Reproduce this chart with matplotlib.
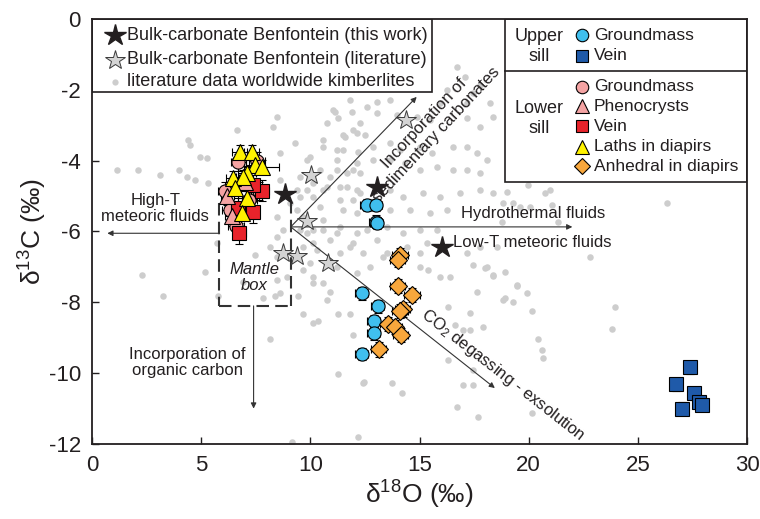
import numpy as np
import matplotlib
matplotlib.use('Agg')
import matplotlib.pyplot as plt
from matplotlib.patches import Rectangle

plt.rcParams['font.family'] = ['Liberation Sans', 'DejaVu Sans']
plt.rcParams['mathtext.fontset'] = 'custom'
plt.rcParams['mathtext.rm'] = 'Liberation Sans'
plt.rcParams['mathtext.it'] = 'Liberation Sans:italic'
plt.rcParams['axes.unicode_minus'] = False

# literature data worldwide kimberlites (d18O, d13C)
lit_x = [1.14, 2.11, 3.11, 3.98, 4.39, 4.49, 5.26, 5.31, 2.29, 5.17, 3.25, 4.35, 4.71, 5.72, 4.94,
         6.64, 8.28, 8.47, 8.60, 9.29, 9.84, 8.60, 9.52, 10.11, 9.52, 9.06, 8.47, 9.38, 10.11, 9.66,
         8.47, 9.52, 10.11, 8.15, 9.66, 10.11, 7.46, 8.47, 6.91, 8.47, 8.60, 9.66, 7.83, 10.11, 9.98,
         10.57, 11.12, 11.90, 11.49, 12.13, 10.76, 11.21, 10.44, 11.21, 11.95, 9.38, 9.84, 10.57, 11.35,
         12.13, 10.44, 11.49, 12.13, 9.84, 10.57, 11.21, 12.13, 10.30, 11.81, 9.98, 11.21, 10.11, 10.57,
         12.13, 8.74, 8.93, 8.15, 9.15, 12.17, 11.26, 12.45, 9.66, 10.11, 10.34, 11.26, 11.81, 10.76,
         10.89, 11.95, 9.43, 8.38, 5.77, 12.72, 13.32, 15.01, 15.38, 15.93, 16.39, 17.44, 18.08, 18.35,
         18.90, 19.45, 19.91, 17.62, 18.81, 19.27, 20.14, 16.29, 17.30, 16.61, 16.98, 17.30, 17.90,
         20.41, 20.60, 20.64, 16.29, 17.44, 16.98, 17.44, 16.71, 17.67, 20.14, 14.19, 13.73, 12.40,
         22.79, 23.94, 23.80, 16.71, 17.07, 16.25, 17.44, 17.76, 18.22, 17.16, 15.93, 13.64, 13.04,
         12.59, 11.81, 11.03, 11.26, 12.27, 13.04, 13.96, 14.88, 15.47, 17.16, 17.76, 18.35, 10.57,
         11.58, 11.95, 12.50, 11.49, 12.17, 12.86, 13.64, 14.10, 15.01, 15.56, 16.52, 17.16, 17.62,
         18.08, 11.21, 12.13, 12.86, 13.64, 14.33, 15.01, 15.79, 16.52, 17.16, 17.76, 10.89, 11.67,
         12.27, 10.76, 11.67, 12.27, 11.35, 11.95, 13.64, 14.23, 15.15, 15.93, 16.84, 17.76, 18.35,
         13.64, 14.55, 15.47, 16.25, 10.57, 11.35, 12.59, 13.50, 14.23, 15.01, 15.79, 10.89, 11.95,
         13.04, 14.42, 15.33, 17.76, 18.54, 11.35, 12.40, 13.50, 15.01, 17.16, 19.00, 19.96, 20.73,
         20.96, 18.81, 19.27, 19.59, 20.05, 21.05, 26.32, 21.33, 18.77, 17.99, 18.35, 19.45, 18.90]
lit_y = [-4.27, -4.27, -4.41, -4.27, -3.42, -3.56, -3.93, -4.63, -7.23, -7.15, -7.83, -4.46, -4.55, -6.33, -3.90,
         -3.14, -3.05, -2.77, -3.79, -3.50, -3.98, -4.55, -4.46, -4.63, -5.03, -5.20, -5.59, -5.40, -5.03, -5.59,
         -6.16, -5.96, -5.96, -6.44, -6.44, -6.33, -6.67, -6.72, -7.43, -7.37, -7.74, -7.09, -7.88, -7.46, -3.90,
         -3.62, -2.63, -2.63, -3.28, -3.22, -2.94, -3.70, -4.27, -4.27, -4.27, -4.83, -4.83, -4.83, -4.75,
         -4.83, -5.31, -5.40, -5.48, -6.05, -5.96, -6.05, -6.05, -6.53, -6.44, -6.89, -7.01, -7.29, -7.46,
         -7.18, -5.96, -7.29, -9.04, -11.95, -11.81, -10.03, -10.25, -8.33, -8.59, -8.53, -8.33, -8.33, -7.94,
         -7.71, -8.93, -7.83, -7.83, -7.83, -7.01, -6.72, -7.01, -7.09, -7.29, -7.29, -6.95, -7.01, -7.23,
         -7.15, -7.51, -7.74, -7.71, -7.94, -7.99, -8.25, -8.14, -8.31, -8.64, -8.79, -8.79, -8.70,
         -9.04, -9.35, -9.58, -9.63, -9.92, -10.34, -10.34, -10.96, -11.24, -11.13, -10.57, -10.28, -10.28,
         -6.72, -8.14, -8.76, -1.36, -1.64, -2.01, -2.09, -1.86, -2.37, -2.37, -2.37, -2.29, -2.34,
         -2.49, -2.29, -2.57, -2.80, -2.94, -2.66, -2.71, -2.77, -2.85, -2.80, -3.05, -2.77, -3.42,
         -3.33, -3.14, -3.28, -3.70, -3.76, -3.62, -3.50, -3.70, -3.62, -3.79, -3.62, -3.62, -3.79,
         -3.98, -3.98, -4.07, -3.98, -3.98, -4.07, -4.27, -4.18, -4.27, -4.27, -4.35, -4.46, -4.35,
         -4.35, -4.75, -4.75, -4.92, -5.11, -5.11, -4.83, -5.03, -4.92, -5.03, -4.92, -4.83, -4.92,
         -5.40, -5.40, -5.48, -5.40, -5.68, -5.88, -5.96, -5.88, -6.05, -5.96, -5.96, -6.24, -6.33,
         -6.24, -6.44, -6.33, -6.44, -6.44, -6.61, -6.61, -6.61, -6.61, -6.61, -4.89, -4.69, -4.92,
         -4.83, -5.20, -5.20, -5.31, -5.31, -5.25, -5.20, -5.73, -5.73, -7.03, -7.26, -7.54, -7.88]

# bulk carbonate Benfontein
bulk_x = [8.85, 13.05, 16.05]
bulk_y = [-4.95, -4.75, -6.45]
bulk_lit_x = [14.4, 10.05, 9.85, 8.75, 9.4, 10.8]
bulk_lit_y = [-2.85, -4.4, -5.7, -6.6, -6.7, -6.9]

# upper sill
up_gm_x = [12.59, 13.0, 13.0, 13.04, 12.36, 13.09, 12.9, 12.9, 12.36]
up_gm_y = [-5.25, -5.25, -5.72, -5.76, -7.74, -8.11, -8.53, -8.87, -9.46]
up_vein_x = [27.37, 26.77, 27.55, 27.0, 27.78, 27.96]
up_vein_y = [-9.83, -10.31, -10.57, -11.0, -10.82, -10.9]

# lower sill
lo_gm_x = [6.1, 6.3, 6.6, 7.55, 6.7, 7.65, 7.2]
lo_gm_y = [-4.85, -5.4, -5.85, -4.0, -4.05, -4.85, -5.1]
lo_phen_x = [6.4, 7.0, 6.2]
lo_phen_y = [-5.55, -4.6, -5.0]
lo_vein_x = [7.8, 7.35, 6.7, 7.35, 6.75]
lo_vein_y = [-4.85, -4.7, -5.35, -5.45, -6.05]
laths_x = [6.77, 7.32, 7.46, 7.78, 6.45, 7.09, 6.91, 6.54, 7.09, 6.86]
laths_y = [-3.76, -3.76, -4.12, -4.18, -4.49, -4.35, -4.46, -4.77, -5.06, -5.48]
laths_xerr = [0.35, 0.35, 0.4, 0.8, 0.3, 0.4, 0.3, 0.3, 0.4, 0.3]
anh_x = [14.1, 14.0, 14.0, 14.65, 14.23, 14.1, 13.55, 13.87, 14.14, 13.13]
anh_y = [-6.67, -6.81, -7.54, -7.8, -8.2, -8.25, -8.6, -8.7, -8.93, -9.33]

fig = plt.figure(figsize=(7.6, 5.19), dpi=100)
ax = fig.add_axes([0.1211, 0.1445, 0.8618, 0.8189])

ax.scatter(lit_x, lit_y, s=22, color='#cdcdcd', linewidths=0, zorder=1)

eb = dict(fmt='none', ecolor='black', elinewidth=0.8, capsize=3, capthick=0.8, zorder=3)
mk = dict(linestyle='none', markeredgecolor='black', markeredgewidth=0.8, zorder=4)

ax.errorbar(up_gm_x, up_gm_y, xerr=0.3, yerr=0.18, **eb)
ax.plot(up_gm_x, up_gm_y, 'o', ms=9.5, color='#40bfee', **mk)
ax.errorbar(up_vein_x, up_vein_y, xerr=0.15, yerr=0.18, **eb)
ax.plot(up_vein_x, up_vein_y, 's', ms=9.5, color='#1f5aa9', **mk)
ax.errorbar(anh_x, anh_y, xerr=0.35, yerr=0.2, **eb)
ax.plot(anh_x, anh_y, 'D', ms=9, color='#f8a73c', **mk)

ax.errorbar(lo_gm_x, lo_gm_y, xerr=0.35, yerr=0.25, **eb)
ax.plot(lo_gm_x, lo_gm_y, 'o', ms=9.5, color='#f4a3a3', **mk)
ax.errorbar(lo_vein_x, lo_vein_y, xerr=0.3, yerr=0.3, **eb)
ax.plot(lo_vein_x, lo_vein_y, 's', ms=9.5, color='#e8232b', **mk)
ax.errorbar(lo_phen_x, lo_phen_y, xerr=0.3, yerr=0.25, **eb)
ax.plot(lo_phen_x, lo_phen_y, '^', ms=11, color='#f4a3a3', **mk)
ax.errorbar(laths_x, laths_y, xerr=laths_xerr, yerr=0.2, **eb)
ax.plot(laths_x, laths_y, '^', ms=12, color='#fff200', **mk)

ax.plot(bulk_lit_x, bulk_lit_y, '*', ms=15, color='#d4d4d4', linestyle='none',
        markeredgecolor='#3a3a3a', markeredgewidth=0.7, zorder=5)
ax.plot(bulk_x, bulk_y, '*', ms=16, color='#231f20', linestyle='none', zorder=5)

# mantle box and process arrows
dash = dict(color='#333333', lw=1.5, dashes=(6, 3), zorder=2)
ax.plot([5.8, 5.8], [-5.2, -8.1], **dash)
ax.plot([9.1, 9.1], [-5.15, -8.1], **dash)
ax.plot([5.8, 9.1], [-8.1, -8.1], **dash)
ax.text(7.45, -7.3, 'Mantle\nbox', ha='center', va='center', fontsize=12,
        style='italic', color='#231f20', linespacing=1.1, zorder=6)

arr = dict(arrowstyle='-|>', lw=0.8, color='#333333', mutation_scale=8, shrinkA=0, shrinkB=0)
ax.annotate('', xy=(0.7, -6.05), xytext=(5.8, -6.05), arrowprops=arr, zorder=2)
ax.annotate('', xy=(14.87, -2.2), xytext=(9.1, -5.87), arrowprops=arr, zorder=2)
ax.annotate('', xy=(22.0, -5.87), xytext=(9.1, -5.87), arrowprops=arr, zorder=2)
ax.annotate('', xy=(18.45, -10.42), xytext=(9.1, -5.87), arrowprops=arr, zorder=2)
ax.annotate('', xy=(7.4, -11.0), xytext=(7.4, -8.1), arrowprops=arr, zorder=2)

tc = '#231f20'
ax.text(2.9, -5.35, 'High-T\nmeteoric fluids', ha='center', va='center', fontsize=12,
        color=tc, linespacing=1.15)
ax.text(4.35, -9.7, 'Incorporation of\norganic carbon', ha='center', va='center', fontsize=12,
        color=tc, linespacing=1.15)
ax.text(15.5, -3.1, 'Incorporation of\nsedimentary carbonates', ha='center', va='center',
        fontsize=12, color=tc, rotation=47, rotation_mode='anchor', linespacing=1.1)
ax.text(23.5, -5.48, 'Hydrothermal fluids', ha='right', va='center', fontsize=12, color=tc)
ax.text(16.55, -6.3, 'Low-T meteoric fluids', ha='left', va='center', fontsize=12, color=tc)
ax.text(18.8, -10.05, 'CO$_2$ degassing - exsolution', ha='center', va='center',
        fontsize=12, color=tc, rotation=-38, rotation_mode='anchor')

# left legend box
ax.add_patch(Rectangle((0, 0.828), 0.519, 0.172, transform=ax.transAxes, facecolor='white',
                       edgecolor='#231f20', lw=1.2, zorder=8))
ax.plot([0.035], [0.962], '*', ms=16, color='#231f20', transform=ax.transAxes, zorder=9)
ax.plot([0.035], [0.904], '*', ms=15, color='#d4d4d4', markeredgecolor='#3a3a3a',
        markeredgewidth=0.7, transform=ax.transAxes, zorder=9)
ax.plot([0.035], [0.852], 'o', ms=4.5, color='#cdcdcd', markeredgewidth=0,
        transform=ax.transAxes, zorder=9)
left_labels = ['Bulk-carbonate Benfontein (this work)', 'Bulk-carbonate Benfontein (literature)',
               'literature data worldwide kimberlites']
for lab, yy in zip(left_labels, [0.962, 0.904, 0.852]):
    ax.text(0.053, yy, lab, transform=ax.transAxes, fontsize=13, va='center', ha='left',
            color=tc, zorder=9)

# right legend box
ax.add_patch(Rectangle((0.6305, 0.6165), 0.3695, 0.3835, transform=ax.transAxes,
                       facecolor='white', edgecolor='#231f20', lw=1.2, zorder=8))
ax.plot([0.6305, 1.0], [0.8776, 0.8776], color='#231f20', lw=1.2, transform=ax.transAxes, zorder=9)
ax.text(0.682, 0.936, 'Upper\nsill', transform=ax.transAxes, fontsize=13, ha='center',
        va='center', color=tc, linespacing=1.25, zorder=9)
ax.text(0.682, 0.765, 'Lower\nsill', transform=ax.transAxes, fontsize=13, ha='center',
        va='center', color=tc, linespacing=1.25, zorder=9)
entries = [('o', '#40bfee', 9, 'Groundmass', 0.962), ('s', '#1f5aa9', 9, 'Vein', 0.913),
           ('o', '#f4a3a3', 9, 'Groundmass', 0.840), ('^', '#f4a3a3', 10, 'Phenocrysts', 0.795),
           ('s', '#e8232b', 9, 'Vein', 0.748), ('^', '#fff200', 10, 'Laths in diapirs', 0.699),
           ('D', '#f8a73c', 8.5, 'Anhedral in diapirs', 0.654)]
for m, c, s, lab, yy in entries:
    ax.plot([0.748], [yy], m, ms=s, color=c, markeredgecolor='black', markeredgewidth=0.8,
            transform=ax.transAxes, zorder=9)
    ax.text(0.766, yy, lab, transform=ax.transAxes, fontsize=12.5, va='center', ha='left',
            color=tc, zorder=9)

ax.set_xlim(0, 30)
ax.set_ylim(-12, 0)
ax.set_xticks(np.arange(0, 31, 5))
ax.set_yticks(np.arange(-12, 1, 2))
ax.tick_params(direction='in', length=5, width=1, labelsize=16, colors=tc, pad=8)
for sp in ax.spines.values():
    sp.set_linewidth(1.3)
    sp.set_color(tc)
    sp.set_zorder(10)
ax.set_xlabel('δ$^{18}$O (‰)', fontsize=19, color=tc, labelpad=2)
ax.set_ylabel('δ$^{13}$C (‰)', fontsize=19, color=tc, labelpad=0)

plt.savefig('out.png', dpi=100)
